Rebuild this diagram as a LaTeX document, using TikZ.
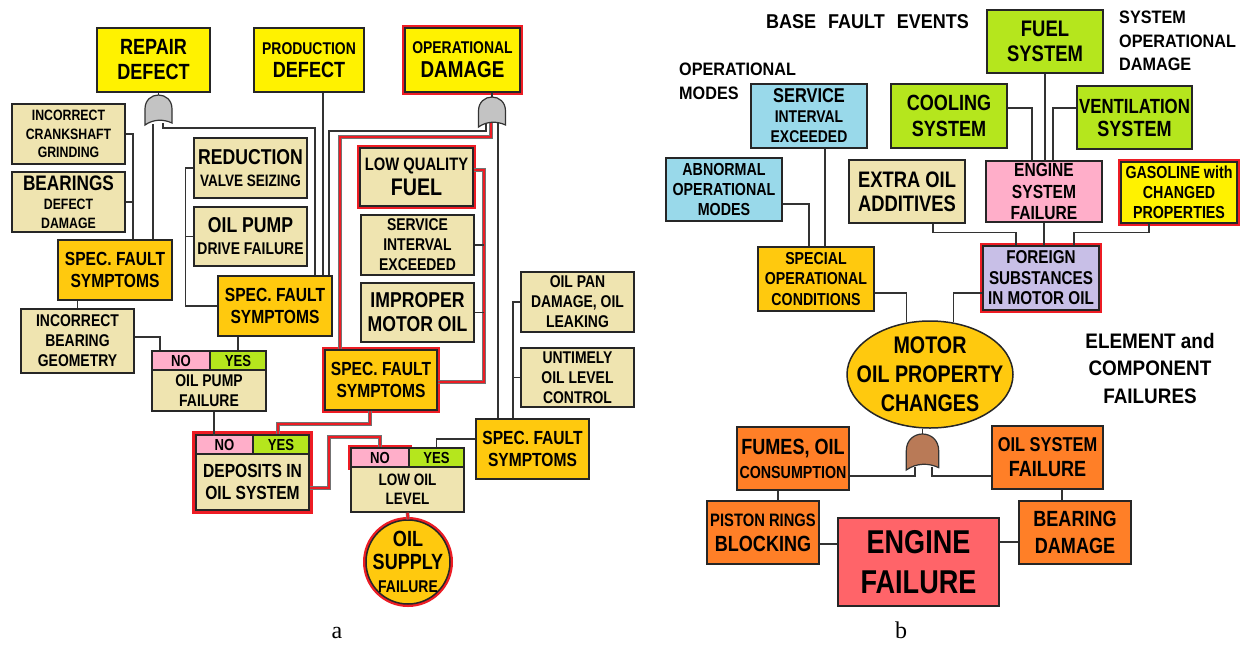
\documentclass[tikz,border=0pt]{standalone}
\usepackage{fontspec}
\newfontfamily\cond{Liberation Sans}[FakeStretch=0.82]
\newfontfamily\lab{Liberation Sans}[FakeStretch=0.9]
\newfontfamily\serifa{Liberation Serif}
\usetikzlibrary{shapes.geometric,backgrounds}
\newcommand\fs[2]{\fontsize{#1}{#2}\selectfont}
\definecolor{cYel}{HTML}{FFF200}
\definecolor{cTan}{HTML}{EFE4B0}
\definecolor{cGold}{HTML}{FFC90E}
\definecolor{cRose}{HTML}{FFAEC9}
\definecolor{cLime}{HTML}{B5E61D}
\definecolor{cBlue}{HTML}{99D9EA}
\definecolor{cLav}{HTML}{C8BFE7}
\definecolor{cOrg}{HTML}{FF7F27}
\definecolor{cEng}{HTML}{FF6469}
\definecolor{cBrown}{HTML}{B97A57}
\definecolor{cGray}{HTML}{C3C3C3}
\definecolor{cRed}{HTML}{ED1C24}
\tikzset{
  box/.style={draw=black!85, line width=1.5pt, rectangle, inner sep=0pt, align=center, text=black},
  f/.style 2 args={font=\cond\bfseries\fs{#1}{#2}},
  wh/.style 2 args={minimum width=#1, minimum height=#2},
  redframe/.style={preaction={draw=cRed, line width=6pt}},
  conn/.style={draw=black!80, line width=1.3pt},
  redline/.style={draw=black!55, line width=0.6pt, double=cRed, double distance=2.4pt},
  lbl/.style={inner sep=0pt, text=black},
  lf/.style 2 args={font=\lab\bfseries\fs{#1}{#2}},
  pics/gate/.style={code={\path[draw=black!80, line width=1.2pt, fill=#1] (-13.5,30) -- (-13.5,14) .. controls (-13.5,5) and (-7,0) .. (0,0) .. controls (7,0) and (13.5,5) .. (13.5,14) -- (13.5,28) .. controls (5,24) and (-5,24) .. (-13.5,30) -- cycle;}}
}
\begin{document}
\begin{tikzpicture}[x=1pt,y=-1pt]
\useasboundingbox (0,0) rectangle (1242,646);
% ---------------- left diagram (a) ----------------
\node[box, f={22}{25}, fill=cYel, wh={113}{64}] (repair) at (153.5,60) {REPAIR\\DEFECT};
\node[box, f={22}{23}, fill=cYel, wh={110}{64}] (prod) at (309,60) {\fs{17}{23}PRODUCTION\\DEFECT};
\node[box, f={23}{24}, redframe, fill=cYel, wh={115}{64}] (opdam) at (462.5,60) {\fs{17}{24}OPERATIONAL\\DAMAGE};
\node[box, f={15}{18.5}, fill=cTan, wh={113}{60}] (crank) at (68.5,134) {INCORRECT\\CRANKSHAFT\\GRINDING};
\node[box, f={15}{19}, fill=cTan, wh={113}{60}] (bearings) at (68.5,202) {\fs{21}{22}BEARINGS\\DEFECT\\DAMAGE};
\node[box, f={19}{22}, fill=cGold, wh={114}{60}] (sf1) at (115,270) {SPEC. FAULT\\SYMPTOMS};
\node[box, f={17}{20}, fill=cTan, wh={113}{64}] (ibg) at (77.5,341) {INCORRECT\\BEARING\\GEOMETRY};
\node[box, f={16}{18}, fill=cRose, wh={58}{19}] (opfNo) at (181,360.5) {NO};
\node[box, f={16}{18}, fill=cLime, wh={56}{19}] (opfYes) at (238,360.5) {YES};
\node[box, f={17}{20}, fill=cTan, wh={114}{41}] (opf) at (209,390.5) {OIL PUMP\\FAILURE};
\node[box, f={19}{22}, fill=cGold, wh={114}{60}] (sf2) at (275,306) {SPEC. FAULT\\SYMPTOMS};
\node[box, f={16.5}{22}, fill=cTan, wh={113}{60}] (redv) at (250.5,168) {\fs{21.5}{22}REDUCTION\\VALVE SEIZING};
\node[box, f={17}{22}, fill=cTan, wh={113}{59}] (opd) at (250.5,236.5) {\fs{21.5}{22}OIL PUMP\\DRIVE FAILURE};
\node[box, f={24}{25}, redframe, fill=cTan, wh={113}{58}] (lqf) at (416.5,177) {\fs{18}{25}LOW QUALITY\\FUEL};
\node[box, f={17}{20}, fill=cTan, wh={113}{60}] (sie) at (417.5,245) {SERVICE\\INTERVAL\\EXCEEDED};
\node[box, f={21.5}{24}, fill=cTan, wh={113}{59}] (imo) at (417.5,312.5) {IMPROPER\\MOTOR OIL};
\node[box, f={19}{22}, redframe, fill=cGold, wh={112}{60}] (sf3) at (381,380) {SPEC. FAULT\\SYMPTOMS};
\node[box, f={16}{18}, fill=cRose, wh={57}{19}] (depNo) at (224.5,444.5) {NO};
\node[box, f={16}{18}, fill=cLime, wh={56}{19}] (depYes) at (281,444.5) {YES};
\node[box, f={19}{22}, fill=cTan, wh={113}{56}] (dep) at (252.5,482) {DEPOSITS IN\\OIL SYSTEM};
\node[box, f={16}{18}, redframe, fill=cRose, wh={58}{19}] (lolNo) at (380,457.5) {NO};
\node[box, f={16}{18}, fill=cLime, wh={55}{19}] (lolYes) at (436.5,457.5) {YES};
\node[box, f={16.5}{19}, fill=cTan, wh={113}{45}] (lol) at (407.5,489.5) {LOW OIL\\LEVEL};
\node[box, f={22}{23}, redframe, circle, fill=cGold, minimum size=84, inner sep=-15pt] (osf) at (408,562) {OIL\\SUPPLY\\\fs{17}{22}FAILURE};
\node[box, f={19}{22}, fill=cGold, wh={113}{60}] (sf4) at (532.5,449) {SPEC. FAULT\\SYMPTOMS};
\node[box, f={17}{20}, fill=cTan, wh={113}{60}] (opan) at (577.5,302) {OIL PAN\\DAMAGE, OIL\\LEAKING};
\node[box, f={17}{20}, fill=cTan, wh={113}{59}] (untimely) at (577.5,377.5) {UNTIMELY\\OIL LEVEL\\CONTROL};
\node[font=\serifa\fs{24}{24}, inner sep=0pt] (la) at (337,633) {a};
% background: white page and red frame round the DEPOSITS box
\begin{scope}[on background layer]
  \fill[white] (0,0) rectangle (1242,646);
  \draw[cRed, line width=6pt] (depNo.north west) rectangle (dep.south east);
\end{scope}
% gate coordinates
\coordinate (g1top) at (158.5,95);
\coordinate (g1a) at (153,124);
\coordinate (g1b) at (163,123);
\coordinate (g2top) at (492,97);
\coordinate (g2a) at (486,123);
\coordinate (g2b) at (491,123);
\coordinate (g2c) at (498,123);
% connectors (a)
\draw[conn] (repair.south -| g1top) -- (g1top);
\draw[conn] (g1a) -- (g1a |- sf1.north);
\draw[conn] (g1b) -- ++(0,5) -| ([xshift=40pt]sf2.north);
\draw[conn] ([xshift=14pt]prod.south) -- ([xshift=48pt]sf2.north);
\draw[conn] (opdam.south -| g2top) -- (g2top);
\draw[conn] (g2a) -- ++(0,8) -| ([xshift=54pt]sf2.north);
\draw[redline] (g2b) -- ++(0,14) -| ([xshift=-41pt]sf3.north);
\draw[conn] (g2c) -- (g2c |- sf4.north);
\draw[conn] (crank.east) -| ([xshift=18pt]sf1.north);
\draw[conn] (bearings.east) -- ++(8,0);
\draw[conn] (ibg.north |- sf1.south) -- (ibg.north);
\draw[conn] ([yshift=4pt]ibg.east) -| ([xshift=-21pt]opfNo.north);
\draw[conn] (opfYes.north |- sf2.south) -- (opfYes.north);
\draw[conn] (redv.west) -- ++(-8,0) |- (sf2.west);
\draw[conn] (opd.west) -- ++(-8,0);
\draw[redline] ([yshift=7pt]lqf.east) -- ++(10,0) |- ([yshift=-2pt]sf3.east);
\draw[conn] (sie.east) -- ++(9,0);
\draw[conn] (imo.east) -- ++(9,0);
\draw[redline] ([xshift=-11pt]sf3.south) -- ++(0,13) -| ([xshift=-3pt]depYes.north);
\draw[conn] ([xshift=5pt]opf.south) -- ++(0,24);
\draw[redline] ([yshift=-6pt]dep.east) -- ++(19,0) -- ++(0,-51) -| (lolNo.north);
\draw[redline] (lol.south) -- (osf.north);
\draw[conn] ([yshift=10pt]sf4.west) -| (lolYes.north);
\draw[conn] (opan.west) -| ([xshift=-19.5pt]sf4.north);
\draw[conn] (untimely.west) -- ++(-8,0);
\pic at (g1top) {gate=cGray};
\pic at (g2top) {gate=cGray};
% ---------------- right diagram (b) ----------------
\node[lbl, lf={20}{24}] (tBase) at (867.5,22) {BASE\hspace{7pt} FAULT\hspace{7pt} EVENTS};
\node[lbl, lf={18}{24}, align=left, anchor=north west] (tOpm) at (679,63) {OPERATIONAL\\MODES};
\node[lbl, lf={18}{23.5}, align=left, anchor=north west] (tSys) at (1119,11) {SYSTEM\\OPERATIONAL\\DAMAGE};
\node[lbl, lf={21}{27.5}, align=center, anchor=north] (tElem) at (1150,333) {ELEMENT and\\COMPONENT\\FAILURES};
\node[box, f={17}{20}, fill=cBlue, wh={116}{64}] (svc) at (809,116) {\fs{20}{21}SERVICE\\INTERVAL\\EXCEEDED};
\node[box, f={17.4}{20}, fill=cBlue, wh={116}{63}] (abn) at (724,189.5) {ABNORMAL\\OPERATIONAL\\MODES};
\node[box, f={22}{26}, fill=cLime, wh={116}{64}] (cool) at (949,116) {COOLING\\SYSTEM};
\node[box, f={22.4}{24}, fill=cTan, wh={116}{63}] (extra) at (907,191.5) {EXTRA OIL\\ADDITIVES};
\node[box, f={22.5}{25}, fill=cLime, wh={116}{63}] (fuel) at (1045,41.5) {FUEL\\SYSTEM};
\node[box, f={22}{23}, fill=cLime, wh={115}{63}] (vent) at (1134.5,117.5) {\fs{20.5}{23}VENTILATION\\SYSTEM};
\node[box, f={19}{21.5}, fill=cRose, wh={116}{61}] (esf) at (1044,191.5) {ENGINE\\SYSTEM\\FAILURE};
\node[box, f={17.4}{20}, redframe, fill=cYel, wh={116}{61}] (gas) at (1179,192.5) {GASOLINE with\\CHANGED\\PROPERTIES};
\node[box, f={18.6}{20.5}, redframe, fill=cLav, wh={116}{64}] (foreign) at (1041,278) {FOREIGN\\SUBSTANCES\\IN MOTOR OIL};
\node[box, f={17.3}{20.5}, fill=cGold, wh={116}{64}] (special) at (816,279) {SPECIAL\\OPERATIONAL\\CONDITIONS};
\node[box, f={24}{29}, ellipse, fill=cGold, minimum width=166, minimum height=107, inner xsep=-25pt, inner ysep=-20pt] (mopc) at (930,374.5) {MOTOR\\OIL PROPERTY\\CHANGES};
\node[box, f={17.4}{24}, fill=cOrg, wh={112}{63}] (fumes) at (793,458.5) {\fs{22}{24}FUMES, OIL\\CONSUMPTION};
\node[box, f={22}{25}, fill=cOrg, wh={111}{63}] (osfail) at (1047.5,457.5) {\fs{20}{25}OIL SYSTEM\\FAILURE};
\node[box, f={22}{25}, fill=cOrg, wh={112}{63}] (piston) at (763,532.5) {\fs{18}{25}PISTON RINGS\\BLOCKING};
\node[box, f={33}{40}, fill=cEng, wh={161}{88}] (engfail) at (918.5,562) {ENGINE\\FAILURE};
\node[box, f={22}{27}, fill=cOrg, wh={112}{63}] (bearing) at (1075,532.5) {BEARING\\DAMAGE};
\node[font=\serifa\fs{24}{24}, inner sep=0pt] (lb) at (901,630) {b};
\coordinate (g3top) at (922.5,434);
\coordinate (g3a) at (915,467);
\coordinate (g3b) at (932,467);
% connectors (b)
\draw[conn] (fuel.south) -- (fuel.south |- esf.north);
\draw[conn] ([yshift=8pt]cool.east) -| ([xshift=-12pt]esf.north);
\draw[conn] ([yshift=9.5pt]vent.west) -| ([xshift=9pt]esf.north);
\draw[conn] (esf.south) -- (esf.south |- foreign.north);
\draw[conn] ([xshift=26pt]extra.south) -- ++(0,9) -| ([xshift=-25pt]foreign.north);
\draw[conn] ([xshift=-30pt]gas.south) -- ++(0,9) -| ([xshift=33pt]foreign.north);
\draw[conn] ([yshift=-15pt]foreign.west) -| (mopc.66);
\draw[conn] ([xshift=16pt]svc.south) -- ([xshift=9pt]special.north);
\draw[conn] ([yshift=-14.5pt]abn.east) -| ([xshift=-7pt]special.north);
\draw[conn] ([yshift=-14pt]special.east) -| (mopc.114);
\draw[conn] (g3top |- mopc.south) -- (g3top);
\draw[conn] ([yshift=-17.5pt]fumes.east) -| (g3a);
\draw[conn] ([yshift=-18.5pt]osfail.west) -| (g3b);
\draw[conn] ([xshift=-15pt]fumes.south) -- ([xshift=15pt]piston.north);
\draw[conn] ([xshift=14.5pt]osfail.south) -- ([xshift=-13pt]bearing.north);
\draw[conn] ([yshift=-11.5pt]piston.east) -- ([yshift=18pt]engfail.west);
\draw[conn] ([yshift=20pt]engfail.east) -- ([yshift=-9.5pt]bearing.west);
\pic[scale=1.2] at (g3top) {gate=cBrown};
\end{tikzpicture}
\end{document}
